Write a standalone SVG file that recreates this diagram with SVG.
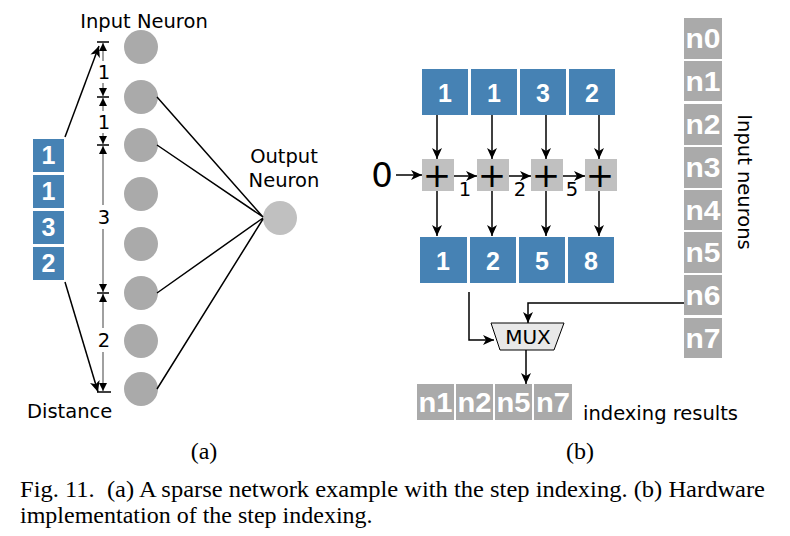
<svg xmlns="http://www.w3.org/2000/svg" width="790" height="536" viewBox="0 0 790 536">
<defs>
<marker id="ah" markerUnits="userSpaceOnUse" markerWidth="12" markerHeight="10" refX="11" refY="5" orient="auto">
<path d="M0,0 L11,5 L0,10 L3,5 Z" fill="#000"/>
</marker>
<marker id="dh" markerUnits="userSpaceOnUse" markerWidth="9" markerHeight="8" refX="8" refY="4" orient="auto-start-reverse">
<path d="M0,0 L8,4 L0,8 Z" fill="#000"/>
</marker>
</defs>
<style>
.blue{fill:#4682b4}
.bt{font-family:"Liberation Sans",Arial,sans-serif;font-weight:bold;font-size:25px;fill:#fff;text-anchor:middle}
.gbox{fill:#aaaaaa}
.gt{font-family:"Liberation Sans",Arial,sans-serif;font-weight:bold;font-size:28px;fill:#fff;text-anchor:middle}
.lbl{font-family:"DejaVu Sans",Verdana,sans-serif;font-size:19.5px;fill:#000}
.cap{font-family:"Liberation Serif","Times New Roman",serif;font-size:24px;fill:#000}
.ln{stroke:#000;stroke-width:1.5;fill:none}
.dl{stroke:#808080;stroke-width:1.5;fill:none}
.neu{fill:#aaaaaa}
.add{fill:#c0c0c0}
</style>

<!-- (a) left panel -->
<g id="input-neurons">
<circle class="neu" cx="141" cy="47" r="17"/>
<circle class="neu" cx="141" cy="97" r="17"/>
<circle class="neu" cx="141" cy="145" r="17"/>
<circle class="neu" cx="141" cy="194" r="17"/>
<circle class="neu" cx="141" cy="244" r="17"/>
<circle class="neu" cx="141" cy="293" r="17"/>
<circle class="neu" cx="141" cy="341" r="17"/>
<circle class="neu" cx="141" cy="389" r="17"/>
<text class="lbl" x="144" y="28" text-anchor="middle">Input Neuron</text>
</g>
<g id="output-neuron">
<circle cx="280" cy="218" r="17" fill="#c0c0c0"/>
<text class="lbl" x="284" y="163" text-anchor="middle">Output</text>
<text class="lbl" x="284" y="187" text-anchor="middle">Neuron</text>
</g>
<g id="distance-boxes">
<rect class="blue" x="33" y="139" width="31" height="33"/>
<rect class="blue" x="33" y="175" width="31" height="33"/>
<rect class="blue" x="33" y="211" width="31" height="33"/>
<rect class="blue" x="33" y="247" width="31" height="33"/>
<text class="bt" x="48.5" y="164">1</text>
<text class="bt" x="48.5" y="200">1</text>
<text class="bt" x="48.5" y="236">3</text>
<text class="bt" x="48.5" y="272">2</text>
</g>
<g id="distance-scale">
<line class="dl" x1="103" y1="43" x2="103" y2="96" marker-start="url(#dh)" marker-end="url(#dh)"/>
<line class="dl" x1="103" y1="98" x2="103" y2="144" marker-start="url(#dh)" marker-end="url(#dh)"/>
<line class="dl" x1="103" y1="146" x2="103" y2="292" marker-start="url(#dh)" marker-end="url(#dh)"/>
<line class="dl" x1="103" y1="294" x2="103" y2="391" marker-end="url(#dh)"/>
<line class="dl" x1="103" y1="294" x2="103" y2="300" marker-start="url(#dh)"/>
<path class="ln" d="M97,42 H109 M97,97 H109 M97,145 H109 M97,293 H109 M97,392 H111"/>
<rect x="96" y="61" width="14" height="22" fill="#fff"/>
<rect x="96" y="111" width="14" height="22" fill="#fff"/>
<rect x="96" y="205" width="14" height="24" fill="#fff"/>
<rect x="96" y="328" width="14" height="24" fill="#fff"/>
<text class="lbl" x="104" y="79" text-anchor="middle">1</text>
<text class="lbl" x="104" y="129" text-anchor="middle">1</text>
<text class="lbl" x="104" y="224" text-anchor="middle">3</text>
<text class="lbl" x="104" y="347" text-anchor="middle">2</text>
<text class="lbl" x="27" y="418">Distance</text>
</g>

<!-- (b) right panel -->
<g id="steps-in">
<rect class="blue" x="422" y="69" width="46" height="46"/>
<rect class="blue" x="471" y="69" width="46" height="46"/>
<rect class="blue" x="520" y="69" width="46" height="46"/>
<rect class="blue" x="569" y="69" width="46" height="46"/>
<text class="bt" x="445" y="102" font-size="28">1</text>
<text class="bt" x="494" y="102" font-size="28">1</text>
<text class="bt" x="543" y="102" font-size="28">3</text>
<text class="bt" x="592" y="102" font-size="28">2</text>
</g>
<g id="adders">
<rect class="add" x="422" y="159" width="32" height="32"/>
<rect class="add" x="477" y="159" width="32" height="32"/>
<rect class="add" x="531" y="159" width="32" height="32"/>
<rect class="add" x="585" y="159" width="32" height="32"/>
<g font-family="DejaVu Sans,sans-serif" font-size="34" text-anchor="middle" fill="#000">
<text x="437" y="187">+</text>
<text x="492" y="187">+</text>
<text x="546" y="187">+</text>
<text x="600" y="187">+</text>
</g>
<text x="382" y="187" font-family="DejaVu Sans,sans-serif" font-size="34" text-anchor="middle">0</text>
</g>
<g id="steps-out">
<rect class="blue" x="420" y="237" width="47" height="46"/>
<rect class="blue" x="470" y="237" width="46" height="46"/>
<rect class="blue" x="519" y="237" width="46" height="46"/>
<rect class="blue" x="568" y="237" width="46" height="46"/>
<text class="bt" x="443" y="270" font-size="28">1</text>
<text class="bt" x="493" y="270" font-size="28">2</text>
<text class="bt" x="542" y="270" font-size="28">5</text>
<text class="bt" x="591" y="270" font-size="28">8</text>
</g>
<g id="mux">
<path d="M491,323 H564 L554,350 H500 Z" fill="#e8e8e8" stroke="#000" stroke-width="1"/>
<text x="528" y="344" font-family="DejaVu Sans,sans-serif" font-size="20" text-anchor="middle">MUX</text>
</g>
<g id="input-list">
<rect class="gbox" x="684" y="18" width="38" height="41"/>
<rect class="gbox" x="684" y="61" width="38" height="40"/>
<rect class="gbox" x="684" y="104" width="38" height="41"/>
<rect class="gbox" x="684" y="147" width="38" height="41"/>
<rect class="gbox" x="684" y="190" width="38" height="40"/>
<rect class="gbox" x="684" y="232" width="38" height="41"/>
<rect class="gbox" x="684" y="275" width="38" height="40"/>
<rect class="gbox" x="684" y="318" width="38" height="40"/>
<text class="gt" x="703" y="48" textLength="35" lengthAdjust="spacingAndGlyphs">n0</text>
<text class="gt" x="703" y="91" textLength="35" lengthAdjust="spacingAndGlyphs">n1</text>
<text class="gt" x="703" y="134" textLength="35" lengthAdjust="spacingAndGlyphs">n2</text>
<text class="gt" x="703" y="177" textLength="35" lengthAdjust="spacingAndGlyphs">n3</text>
<text class="gt" x="703" y="220" textLength="35" lengthAdjust="spacingAndGlyphs">n4</text>
<text class="gt" x="703" y="262" textLength="35" lengthAdjust="spacingAndGlyphs">n5</text>
<text class="gt" x="703" y="305" textLength="35" lengthAdjust="spacingAndGlyphs">n6</text>
<text class="gt" x="703" y="348" textLength="35" lengthAdjust="spacingAndGlyphs">n7</text>
<text class="lbl" transform="translate(738,182) rotate(90)" text-anchor="middle">Input neurons</text>
</g>
<g id="results">
<rect class="gbox" x="417" y="384" width="37" height="36"/>
<rect class="gbox" x="456" y="384" width="37" height="36"/>
<rect class="gbox" x="495" y="384" width="37" height="36"/>
<rect class="gbox" x="534" y="384" width="38" height="36"/>
<text class="gt" x="435.5" y="412" textLength="34" lengthAdjust="spacingAndGlyphs">n1</text>
<text class="gt" x="474.5" y="412" textLength="34" lengthAdjust="spacingAndGlyphs">n2</text>
<text class="gt" x="513.5" y="412" textLength="34" lengthAdjust="spacingAndGlyphs">n5</text>
<text class="gt" x="553" y="412" textLength="34" lengthAdjust="spacingAndGlyphs">n7</text>
<text class="lbl" x="583" y="420">indexing results</text>
</g>

<g id="connectors">
<!-- (a) -->
<line class="ln" x1="65" y1="137" x2="99" y2="46" marker-end="url(#ah)"/>
<line class="ln" x1="65" y1="282" x2="98" y2="392" marker-end="url(#ah)"/>
<path class="ln" d="M157,97 L263,217 M157,145 L263,217 M157,293 L263,218 M157,389 L263,219"/>
<!-- (b) -->
<line class="ln" x1="437" y1="115" x2="437" y2="159" marker-end="url(#ah)"/>
<line class="ln" x1="492" y1="115" x2="492" y2="159" marker-end="url(#ah)"/>
<line class="ln" x1="546" y1="115" x2="546" y2="159" marker-end="url(#ah)"/>
<line class="ln" x1="599" y1="115" x2="599" y2="159" marker-end="url(#ah)"/>
<line class="ln" x1="437" y1="191" x2="437" y2="236" marker-end="url(#ah)"/>
<line class="ln" x1="492" y1="191" x2="492" y2="236" marker-end="url(#ah)"/>
<line class="ln" x1="546" y1="191" x2="546" y2="236" marker-end="url(#ah)"/>
<line class="ln" x1="599" y1="191" x2="599" y2="236" marker-end="url(#ah)"/>
<line class="ln" x1="396" y1="175" x2="422" y2="175" marker-end="url(#ah)"/>
<line class="ln" x1="454" y1="176" x2="477" y2="176" marker-end="url(#ah)"/>
<line class="ln" x1="509" y1="176" x2="531" y2="176" marker-end="url(#ah)"/>
<line class="ln" x1="563" y1="176" x2="585" y2="176" marker-end="url(#ah)"/>
<g class="lbl" font-size="18">
<text x="465" y="196" text-anchor="middle">1</text>
<text x="520" y="196" text-anchor="middle">2</text>
<text x="572" y="196" text-anchor="middle">5</text>
</g>
<path class="ln" d="M469,292 V340 H494" marker-end="url(#ah)"/>
<path class="ln" d="M684,303 H528 V323" marker-end="url(#ah)"/>
<line class="ln" x1="526" y1="350" x2="526" y2="384" marker-end="url(#ah)"/>
</g>

<g id="caption">
<text class="cap" x="204" y="459" text-anchor="middle" font-size="20">(a)</text>
<text class="cap" x="580" y="459" text-anchor="middle" font-size="20">(b)</text>
<text class="cap" x="20" y="497" textLength="745" lengthAdjust="spacingAndGlyphs" xml:space="preserve">Fig. 11.  (a) A sparse network example with the step indexing. (b) Hardware</text>
<text class="cap" x="20" y="523">implementation of the step indexing.</text>
</g>
</svg>
